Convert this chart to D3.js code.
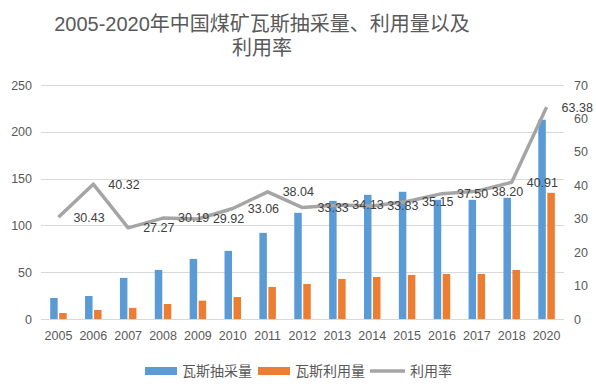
<!DOCTYPE html>
<html>
<head>
<meta charset="utf-8">
<script src="https://cdn.jsdelivr.net/npm/d3@7"></script>
<style>
  body { margin: 0; background: #fff; }
  svg { display: block; font-family: "Liberation Sans", "Noto Sans CJK SC", sans-serif; }
</style>
</head>
<body>
<div id="chart"></div>
<script>
const years = ["2005", "2006", "2007", "2008", "2009", "2010", "2011", "2012", "2013", "2014", "2015", "2016", "2017", "2018", "2020"];
const drainage = [22.5, 24.6, 43.9, 52.4, 64.2, 72.8, 92.0, 113.4, 126.2, 132.7, 135.9, 127.3, 127.3, 129.5, 212.9];
const utilization = [6.4, 9.6, 11.8, 16.0, 19.6, 23.5, 34.2, 37.4, 42.8, 44.9, 47.1, 48.1, 48.1, 52.4, 134.8];
const rate = [30.43, 40.32, 27.27, 30.19, 29.92, 33.06, 38.04, 33.33, 34.13, 33.83, 35.15, 37.50, 38.20, 40.91, 63.38];
const leftTicks = [0, 50, 100, 150, 200, 250];
const rightTicks = [0, 10, 20, 30, 40, 50, 60, 70];

const width = 596, height = 386;
const margin = { top: 85, right: 32, bottom: 67, left: 41 };
const textColor = "#595959";

const svg = d3.select("#chart").append("svg")
    .attr("width", width)
    .attr("height", height);

const x = d3.scaleBand()
    .domain(years)
    .range([margin.left, width - margin.right]);

const yLeft = d3.scaleLinear()
    .domain([0, 250])
    .range([height - margin.bottom, margin.top]);

const yRight = d3.scaleLinear()
    .domain([0, 70])
    .range([height - margin.bottom, margin.top]);

// gridlines
svg.append("g")
    .selectAll("line")
    .data(leftTicks)
    .join("line")
    .attr("x1", margin.left)
    .attr("x2", width - margin.right)
    .attr("y1", d => Math.round(yLeft(d)) + 0.5)
    .attr("y2", d => Math.round(yLeft(d)) + 0.5)
    .attr("stroke", "#d9d9d9")
    .attr("stroke-width", 1);

const leftAxis = svg.append("g")
    .attr("transform", `translate(${margin.left}, 0)`)
    .call(d3.axisLeft(yLeft).tickValues(leftTicks).tickSize(0).tickPadding(9));

const rightAxis = svg.append("g")
    .attr("transform", `translate(${width - margin.right}, 0)`)
    .call(d3.axisRight(yRight).tickValues(rightTicks).tickSize(0).tickPadding(10));

const xAxis = svg.append("g")
    .attr("transform", `translate(0, ${height - margin.bottom})`)
    .call(d3.axisBottom(x).tickSize(0).tickPadding(12));

[leftAxis, rightAxis, xAxis].forEach(g => {
    g.select(".domain").remove();
    g.selectAll("text")
        .attr("fill", textColor)
        .style("font-size", "12.5px");
});

const barW = 7.5, gap = 1.5;

svg.append("g")
    .selectAll("rect")
    .data(drainage)
    .join("rect")
    .attr("x", (d, i) => x(years[i]) + x.bandwidth() / 2 - gap / 2 - barW)
    .attr("y", d => yLeft(d))
    .attr("width", barW)
    .attr("height", d => yLeft(0) - yLeft(d))
    .attr("fill", "#5b9bd5");

svg.append("g")
    .selectAll("rect")
    .data(utilization)
    .join("rect")
    .attr("x", (d, i) => x(years[i]) + x.bandwidth() / 2 + gap / 2)
    .attr("y", d => yLeft(d))
    .attr("width", barW)
    .attr("height", d => yLeft(0) - yLeft(d))
    .attr("fill", "#ed7d31");

const line = d3.line()
    .x((d, i) => x(years[i]) + x.bandwidth() / 2)
    .y(d => yRight(d));

svg.append("path")
    .datum(rate)
    .attr("fill", "none")
    .attr("stroke", "#a5a5a5")
    .attr("stroke-width", 3.5)
    .attr("stroke-linejoin", "round")
    .attr("d", line);

svg.append("g")
    .selectAll("text")
    .data(rate)
    .join("text")
    .attr("x", (d, i) => x(years[i]) + x.bandwidth() / 2 + 15)
    .attr("y", d => yRight(d))
    .attr("dy", "0.35em")
    .attr("fill", "#404040")
    .style("font-size", "12.5px")
    .text(d => d.toFixed(2));

// title
const title = svg.append("text")
    .attr("x", 262)
    .attr("text-anchor", "middle")
    .attr("fill", textColor)
    .style("font-size", "20px")
    .style("font-family", "'Liberation Sans', 'Noto Sans CJK SC', sans-serif");
title.append("tspan").attr("x", 262).attr("y", 31).text("2005-2020年中国煤矿瓦斯抽采量、利用量以及");
title.append("tspan").attr("x", 262).attr("y", 55).text("利用率");

// legend
const legendItems = [
    { name: "瓦斯抽采量", type: "rect", color: "#5b9bd5", x: 145 },
    { name: "瓦斯利用量", type: "rect", color: "#ed7d31", x: 258 },
    { name: "利用率", type: "line", color: "#a5a5a5", x: 370 }
];

const legend = svg.append("g");
legendItems.forEach(item => {
    const g = legend.append("g").attr("transform", `translate(${item.x}, 371)`);
    if (item.type === "rect") {
        g.append("rect")
            .attr("x", 0)
            .attr("y", -4)
            .attr("width", 32)
            .attr("height", 8)
            .attr("fill", item.color);
    } else {
        g.append("line")
            .attr("x1", 0)
            .attr("x2", 35)
            .attr("y1", 0)
            .attr("y2", 0)
            .attr("stroke", item.color)
            .attr("stroke-width", 3.5);
    }
    g.append("text")
        .attr("x", item.type === "rect" ? 37 : 40)
        .attr("y", 0)
        .attr("dy", "0.38em")
        .attr("fill", textColor)
        .style("font-size", "14px")
        .text(item.name);
});
</script>
</body>
</html>
